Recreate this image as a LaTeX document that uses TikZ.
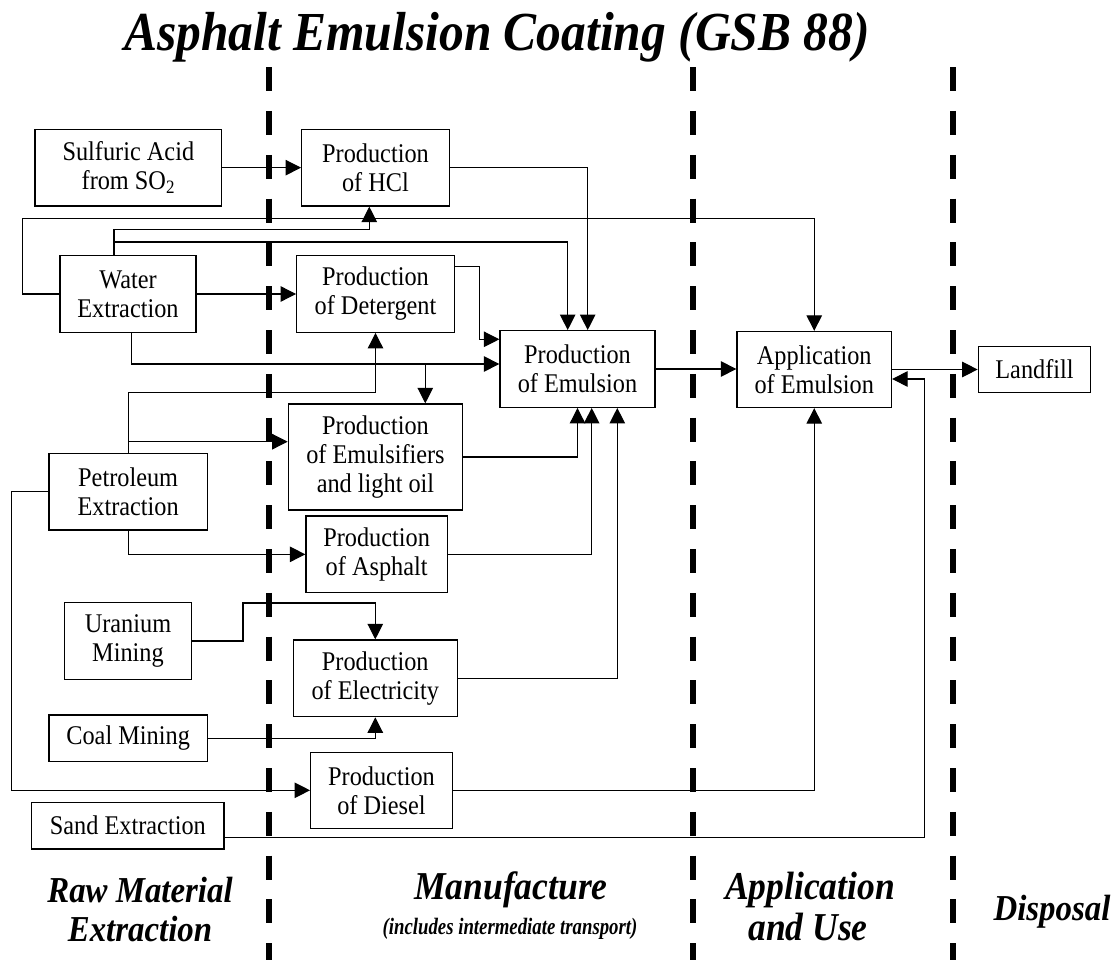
\documentclass[tikz,border=0pt]{standalone}
\usepackage{fontspec}
\setmainfont{Liberation Serif}[FakeStretch=0.9]
\newfontfamily\condfont{Liberation Serif}[FakeStretch=0.8]
\usetikzlibrary{arrows.meta}
\newcommand\boxfont{\fontsize{27}{29}\selectfont}
\newcommand\lblfont{\fontsize{36.5}{40}\selectfont\bfseries\itshape}
\newcommand\biglblfont{\fontsize{39.5}{42}\selectfont\bfseries\itshape}
\newcommand\sublblfont{\condfont\fontsize{23.5}{26}\selectfont\bfseries\itshape}
\newcommand\titlefont{\fontsize{55}{60}\selectfont\bfseries\itshape}
\tikzset{
  box/.style={draw, line width=1.3pt, inner sep=0pt, align=center, font=\boxfont},
  conn/.style={line width=1.1pt},
  arr/.style={conn, -{Triangle[length=15.5pt,width=15.5pt]}},
  phaseline/.style={line width=6pt, dash pattern=on 24pt off 19.8pt},
  lbl/.style={font=\lblfont, anchor=base, inner sep=0pt},
  biglbl/.style={font=\biglblfont, anchor=base, inner sep=0pt},
  sublbl/.style={font=\sublblfont, anchor=base, inner sep=0pt}
}
\begin{document}
\begin{tikzpicture}[x=1pt,y=-1pt]
\useasboundingbox (0,0) rectangle (1117,960);

% phase separators
\draw[phaseline] (268.7,67.2) -- (268.7,960);
\draw[phaseline] (692.5,67.2) -- (692.5,960);
\draw[phaseline] (953.3,67.2) -- (953.3,960);

% title
\node[font=\titlefont, anchor=base, inner sep=0pt] (title) at (497,51) {Asphalt Emulsion Coating (GSB 88)};

% boxes
\node[box, minimum width=186.7pt, minimum height=76.7pt] (sulf) at (128.35,167.65) {Sulfuric Acid\\from SO\textsubscript{2}};
\node[box, minimum width=147.6pt, minimum height=76.7pt] (hcl) at (375.5,167.65) {Production\\of HCl};
\node[box, minimum width=136pt, minimum height=76.6pt] (water) at (128,294) {Water\\Extraction};
\node[box, minimum width=157.6pt, minimum height=76.6pt] (det) at (375.5,294) {Production\\of Detergent};
\node[box, minimum width=155pt, minimum height=76.6pt] (emul) at (577.5,369) {Production\\of Emulsion};
\node[box, minimum width=154.5pt, minimum height=76pt] (app) at (814.25,369.5) {Application\\of Emulsion};
\node[box, minimum width=112.4pt, minimum height=45.6pt] (land) at (1034.5,369.5) {Landfill};
\node[box, minimum width=158.3pt, minimum height=76.7pt] (pet) at (128.15,491.65) {Petroleum\\Extraction};
\node[box, minimum width=174.4pt, minimum height=106pt] (emsf) at (375.5,457) {Production\\of Emulsifiers\\and light oil};
\node[box, minimum width=141.3pt, minimum height=76.7pt] (asph) at (376.65,554.35) {Production\\of Asphalt};
\node[box, minimum width=127.4pt, minimum height=76.6pt] (uran) at (128,641) {Uranium\\Mining};
\node[box, minimum width=164pt, minimum height=76.7pt] (elec) at (375.3,678.35) {Production\\of Electricity};
\node[box, minimum width=158.3pt, minimum height=46.7pt] (coal) at (128.15,738.35) {Coal Mining};
\node[box, minimum width=141.6pt, minimum height=76pt] (dies) at (381.5,790.3) {Production\\of Diesel};
\node[box, minimum width=192.3pt, minimum height=46.7pt] (sand) at (127.85,825.65) {Sand Extraction};

% connectors
\draw[arr] (sulf.east) -- (hcl.west);
\draw[arr] (hcl.east) -| ([xshift=10.2pt]emul.north);
\coordinate (wl) at (22.7,218.3);
\draw[arr] (water.west) -| (wl) -| (app.north);
\draw[arr] ([xshift=-14pt]water.north) -- ++(0,-25.7) -| ([xshift=-6.2pt]hcl.south);
\draw[arr] ([xshift=-14pt]water.north) -- ++(0,-13) -| ([xshift=-9.8pt]emul.north);
\draw[arr] (water.east) -- (water.east -| det.west);
\draw[arr] ([yshift=27.3pt]det.east) -- ++(24.4,0) |- ([yshift=29.7pt]emul.west);
\draw[arr] ([xshift=3.7pt]water.south) |- ([yshift=5pt]emul.west);
\coordinate (wb) at (425.3,364);
\draw[arr] (wb) -- ([xshift=49.8pt]emsf.north);
\draw[arr] (pet.north) -- ++(0,-60.6) -| (det.south);
\draw[arr] ([yshift=15.3pt]emsf.west -| pet.north) -- ([yshift=15.3pt]emsf.west);
\draw[arr] (pet.west) -- ++(-37.3,0) |- (dies.west);
\draw[arr] (pet.south) |- (asph.west);
\draw[arr] (emsf.east) -| (emul.south);
\draw[arr] (asph.east) -| ([xshift=14.2pt]emul.south);
\draw[arr] (elec.east) -| ([xshift=39.8pt]emul.south);
\draw[arr] (uran.east) -- ++(50.6,0) -- ++(0,-38) -| (elec.north);
\draw[arr] (coal.east) -| (elec.south);
\draw[arr] (emul.east) -- (emul.east -| app.west);
\draw[arr] (app.east) -- (app.east -| land.west);
\draw[arr] (dies.east) -| (app.south);
\draw[arr] ([yshift=-11.65pt]sand.east) -- ++(699.7,0) |- ([yshift=-9.5pt]app.east);

% phase labels
\node[lbl] (raw1) at (140,902) {Raw Material};
\node[lbl] (raw2) at (140,941) {Extraction};
\node[biglbl] (man1) at (511,899) {Manufacture};
\node[sublbl] (man2) at (510,934) {(includes intermediate transport)};
\node[biglbl] (use1) at (810,899) {Application};
\node[biglbl] (use2) at (808,940) {and Use};
\node[lbl] (disp) at (1052,920) {Disposal};
\end{tikzpicture}
\end{document}
